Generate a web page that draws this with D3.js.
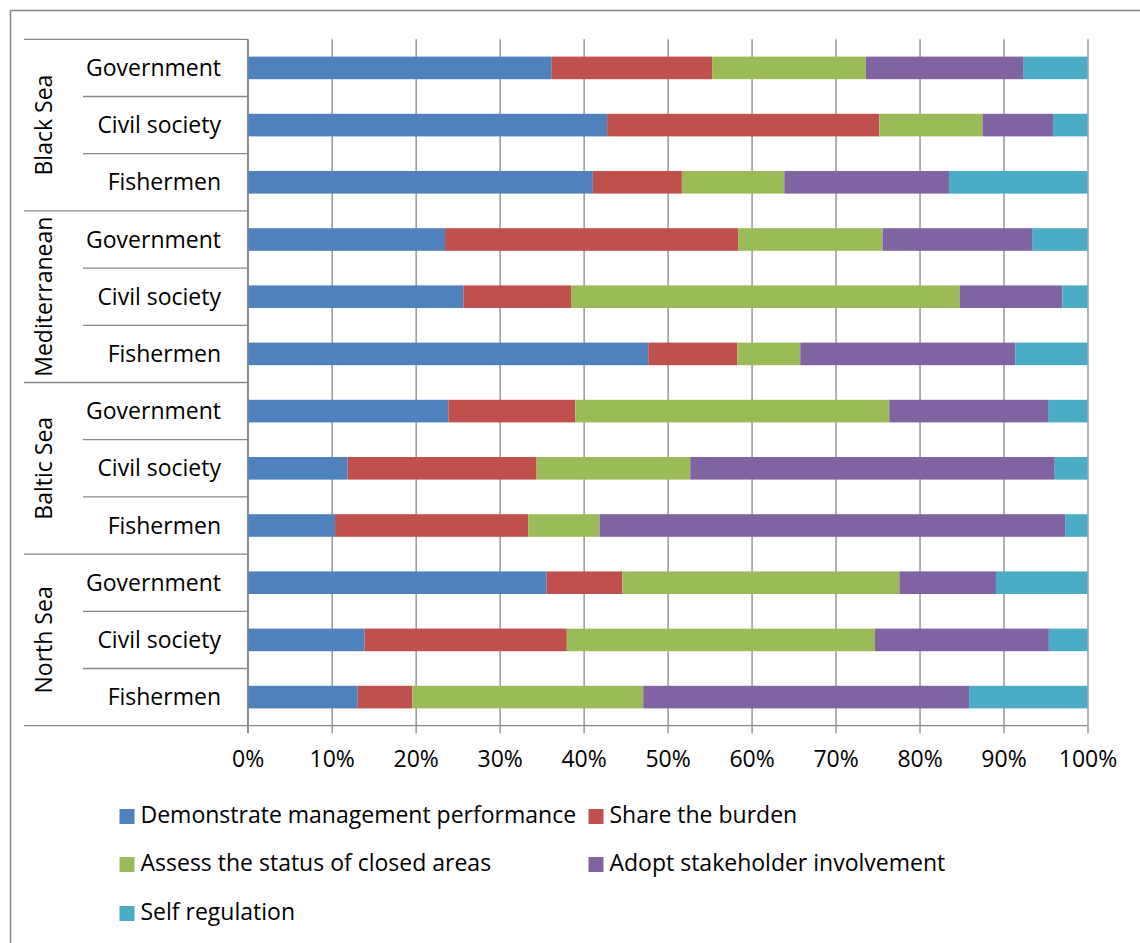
<!DOCTYPE html>
<html>
<head>
<meta charset="utf-8">
<script src="https://cdn.jsdelivr.net/npm/d3@7"></script>
<style>
  html, body { margin: 0; padding: 0; background: #fff; }
  svg { display: block; }
  text { font-family: "Open Sans", Lato, sans-serif; fill: #000; }
</style>
</head>
<body>
<svg id="chart" width="1140" height="943"></svg>
<script>
// Sea regions (top to bottom) and stakeholder groups within each region
const regions = ["Black Sea", "Mediterranean", "Baltic Sea", "North Sea"];
const stakeholders = ["Government", "Civil society", "Fishermen"];

// Series names (legend order)
const seriesNames = [
  "Demonstrate management performance",
  "Share the burden",
  "Assess the status of closed areas",
  "Adopt stakeholder involvement",
  "Self regulation"
];
const seriesColors = ["#4F81BD", "#C0504D", "#9BBB59", "#8064A2", "#4BACC6"];

// Share of responses (%), one value per region/stakeholder row, top to bottom
const demonstratePerformance = [36.2, 42.8, 41.1, 23.5, 25.7, 47.7, 23.9, 11.9, 10.4, 35.6, 13.9, 13.1];
const shareBurden            = [19.1, 32.4, 10.6, 34.9, 12.8, 10.6, 15.1, 22.5, 23.0,  9.0, 24.1,  6.5];
const assessClosedAreas      = [18.3, 12.3, 12.2, 17.2, 46.3,  7.5, 37.4, 18.3,  8.5, 33.0, 36.7, 27.5];
const adoptInvolvement       = [18.8,  8.4, 19.6, 17.8, 12.2, 25.6, 18.9, 43.4, 55.5, 11.5, 20.7, 38.8];
const selfRegulation         = [ 7.6,  4.1, 16.5,  6.6,  3.0,  8.6,  4.7,  3.9,  2.6, 10.9,  4.6, 14.1];

// Axis tick labels
const tickValues = [0, 0.1, 0.2, 0.3, 0.4, 0.5, 0.6, 0.7, 0.8, 0.9, 1.0];
const tickLabels = ["0%", "10%", "20%", "30%", "40%", "50%", "60%", "70%", "80%", "90%", "100%"];

const seriesValues = [demonstratePerformance, shareBurden, assessClosedAreas, adoptInvolvement, selfRegulation];

// Build row records
const rows = [];
regions.forEach((r, ri) => {
  stakeholders.forEach((s, si) => {
    const i = ri * stakeholders.length + si;
    const rec = { key: r + "|" + s, region: r, stakeholder: s, first: si === 0 };
    seriesNames.forEach((n, k) => { rec[n] = seriesValues[k][i]; });
    rows.push(rec);
  });
});

const stacked = d3.stack().keys(seriesNames).offset(d3.stackOffsetExpand)(rows);

const svg = d3.select("#chart");
const gridColor = "#878787";
const font = 23;

// Outer chart frame
svg.append("rect")
  .attr("x", 10.5).attr("y", 10.5)
  .attr("width", 1300).attr("height", 1100)
  .attr("fill", "none").attr("stroke", "#888").attr("stroke-width", 1.5);

const plot = { left: 247.7, right: 1087.5, top: 39.3, bottom: 725.7 };

const x = d3.scaleLinear().domain([0, 1]).range([plot.left, plot.right]);
const y = d3.scaleBand().domain(rows.map(d => d.key)).range([plot.top, plot.bottom]).padding(0);
const barH = y.bandwidth() * 0.395;

// Vertical gridlines, with tick marks below the axis
svg.append("g")
  .attr("transform", `translate(0,${plot.bottom})`)
  .call(d3.axisBottom(x).tickValues(tickValues).tickSizeInner(-(plot.bottom - plot.top)).tickSizeOuter(0).tickFormat(""))
  .call(g => g.select(".domain").remove())
  .call(g => g.selectAll(".tick line").attr("stroke", gridColor).attr("stroke-width", 1.3).attr("y2", -(plot.bottom - plot.top)).attr("y1", 7.5));

// Bars
svg.append("g")
  .selectAll("g")
  .data(stacked)
  .join("g")
  .attr("fill", (d, i) => seriesColors[i])
  .selectAll("rect")
  .data(d => d.map(v => ({ v, key: v.data.key })))
  .join("rect")
  .attr("x", d => x(d.v[0]))
  .attr("width", d => x(d.v[1]) - x(d.v[0]))
  .attr("y", d => y(d.key) + (y.bandwidth() - barH) / 2)
  .attr("height", barH);

// Tick labels
svg.append("g")
  .attr("transform", `translate(0,${plot.bottom})`)
  .call(d3.axisBottom(x).tickValues(tickValues).tickSize(0).tickFormat((d, i) => tickLabels[i]))
  .call(g => g.select(".domain").remove())
  .call(g => g.selectAll(".tick text")
    .attr("y", 41).attr("dy", 0)
    .style("font-family", "'Open Sans', sans-serif")
    .style("font-size", font + "px")
    .attr("fill", "#000"));

// Category axis: left structure lines
const axisG = svg.append("g").attr("stroke", gridColor).attr("stroke-width", 1.3);
axisG.append("line")
  .attr("x1", plot.left).attr("x2", plot.left)
  .attr("y1", plot.top).attr("y2", plot.bottom + 7.5);
rows.forEach(d => {
  const yy = y(d.key);
  axisG.append("line")
    .attr("x1", d.first ? 24 : 83).attr("x2", plot.left)
    .attr("y1", yy).attr("y2", yy);
});
axisG.append("line")
  .attr("x1", 24).attr("x2", plot.right)
  .attr("y1", plot.bottom).attr("y2", plot.bottom);

// Stakeholder labels
svg.append("g")
  .selectAll("text")
  .data(rows)
  .join("text")
  .attr("x", 221)
  .attr("y", d => y(d.key) + y.bandwidth() / 2 + 8)
  .attr("text-anchor", "end")
  .style("font-size", font + "px")
  .text(d => d.stakeholder);

// Region labels (rotated)
svg.append("g")
  .selectAll("text")
  .data(regions)
  .join("text")
  .attr("transform", r => {
    const y0 = y(r + "|" + stakeholders[0]);
    const y1 = y(r + "|" + stakeholders[stakeholders.length - 1]) + y.bandwidth();
    return `translate(52,${(y0 + y1) / 2}) rotate(-90)`;
  })
  .attr("text-anchor", "middle")
  .style("font-size", font + "px")
  .text(r => r);

// Legend
const legendPos = [
  { x: 119.5, y: 809 }, { x: 588.5, y: 809 },
  { x: 119.5, y: 857 }, { x: 588.5, y: 857 },
  { x: 119.5, y: 906 }
];
const legend = svg.append("g")
  .selectAll("g")
  .data(seriesNames)
  .join("g")
  .attr("transform", (d, i) => `translate(${legendPos[i].x},${legendPos[i].y})`);
legend.append("rect")
  .attr("width", 15).attr("height", 15)
  .attr("fill", (d, i) => seriesColors[i]);
legend.append("text")
  .attr("x", 21).attr("y", 14)
  .style("font-size", font + "px")
  .text(d => d);
</script>
</body>
</html>
